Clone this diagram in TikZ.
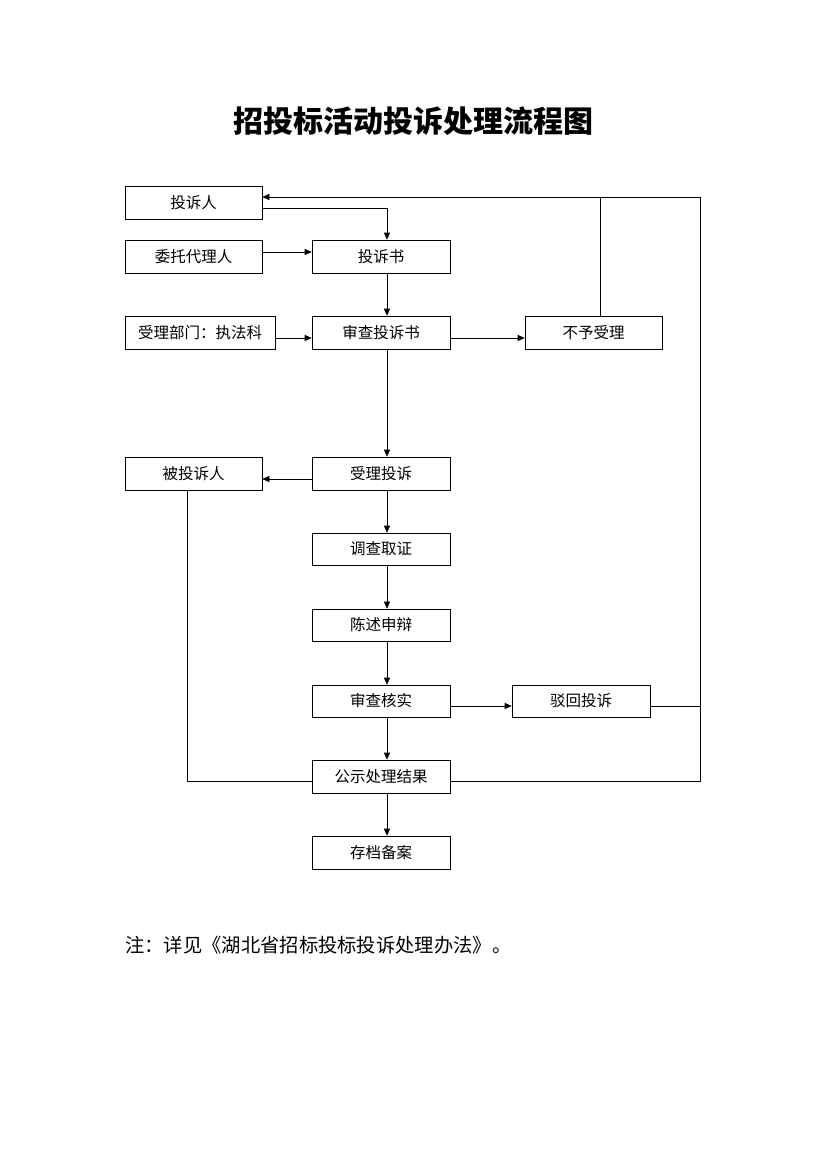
\documentclass[tikz,border=0pt]{standalone}
\usepackage{fontspec}
\newfontfamily\cjk{Noto Sans CJK SC}
\usetikzlibrary{arrows.meta}

\begin{document}
\begin{tikzpicture}[x=1pt,y=-1pt,line width=0.6pt,
  every node/.style={font=\cjk\fontsize{15.5}{18}\selectfont},
  box/.style={draw,minimum width=138pt,minimum height=33pt,inner sep=0pt},
  arr/.style={-{Triangle[length=7pt,width=6pt]}}]
\useasboundingbox (0,0) rectangle (826,1169);
% title and note
\node (title) at (413,121) {\fontsize{30}{34}\selectfont\bfseries 招投标活动投诉处理流程图};
\node[anchor=west,inner sep=0pt] (note) at (125,945) {\fontsize{19.3}{22}\selectfont 注：详见《湖北省招标投标投诉处理办法》。};
% boxes
\node[box,minimum width=137pt] (tsr) at (193.5,202.5) {投诉人};
\node[box,minimum width=137pt] (wtdlr) at (193.5,256.5) {委托代理人};
\node[box] (tss) at (381,256.5) {投诉书};
\node[box,minimum width=150pt] (sldw) at (200,332.5) {受理部门：执法科};
\node[box] (scts) at (381,332.5) {审查投诉书};
\node[box,minimum width=137pt] (byl) at (593.5,332.5) {不予受理};
\node[box,minimum width=137pt] (btsr) at (193.5,473.5) {被投诉人};
\node[box] (slts) at (381,473.5) {受理投诉};
\node[box,minimum height=32pt] (dcqz) at (381,549) {调查取证};
\node[box,minimum height=32pt] (csbs) at (381,625) {陈述申辩};
\node[box,minimum height=32pt] (schs) at (381,701) {审查核实};
\node[box,minimum height=32pt] (bhts) at (581,701) {驳回投诉};
\node[box] (gsjg) at (381,776.5) {公示处理结果};
\node[box] (cdba) at (381,852.5) {存档备案};
% turning points
\coordinate (rt) at (700,197);
\coordinate (rb) at (700,781);
% connectors
\draw[arr] ([yshift=-5.5]tsr.east) -| ([xshift=6]tss.north);
\draw[arr] ([yshift=4.5]wtdlr.east) -- ([yshift=4.5]tss.west);
\draw[arr] ([xshift=6]tss.south) -- ([xshift=6]scts.north);
\draw[arr] ([yshift=-5.5]sldw.east) -- ([yshift=-5.5]scts.west);
\draw[arr] ([yshift=-5.5]scts.east) -- ([yshift=-5.5]byl.west);
\draw[arr] ([xshift=6]scts.south) -- ([xshift=6]slts.north);
\draw[arr] ([yshift=-5.5]slts.west) -- ([yshift=-5.5]btsr.east);
\draw[arr] ([xshift=6]slts.south) -- ([xshift=6]dcqz.north);
\draw[arr] ([xshift=6]dcqz.south) -- ([xshift=6]csbs.north);
\draw[arr] ([xshift=6]csbs.south) -- ([xshift=6]schs.north);
\draw[arr] ([yshift=-5]schs.east) -- ([yshift=-5]bhts.west);
\draw[arr] ([xshift=6]schs.south) -- ([xshift=6]gsjg.north);
\draw[arr] ([xshift=6]gsjg.south) -- ([xshift=6]cdba.north);
% feedback lines
\draw[arr] (rt) -- (rt -| tsr.east);
\draw ([xshift=6.5]byl.north) -- ([xshift=6.5]byl.north |- rt);
\draw (rt) -- (rb) -- (rb -| gsjg.east);
\draw ([yshift=-5]bhts.east) -- ([yshift=-5]bhts.east -| rt);
\draw ([xshift=-6.5]btsr.south) |- (rb -| gsjg.west);
\end{tikzpicture}
\end{document}
